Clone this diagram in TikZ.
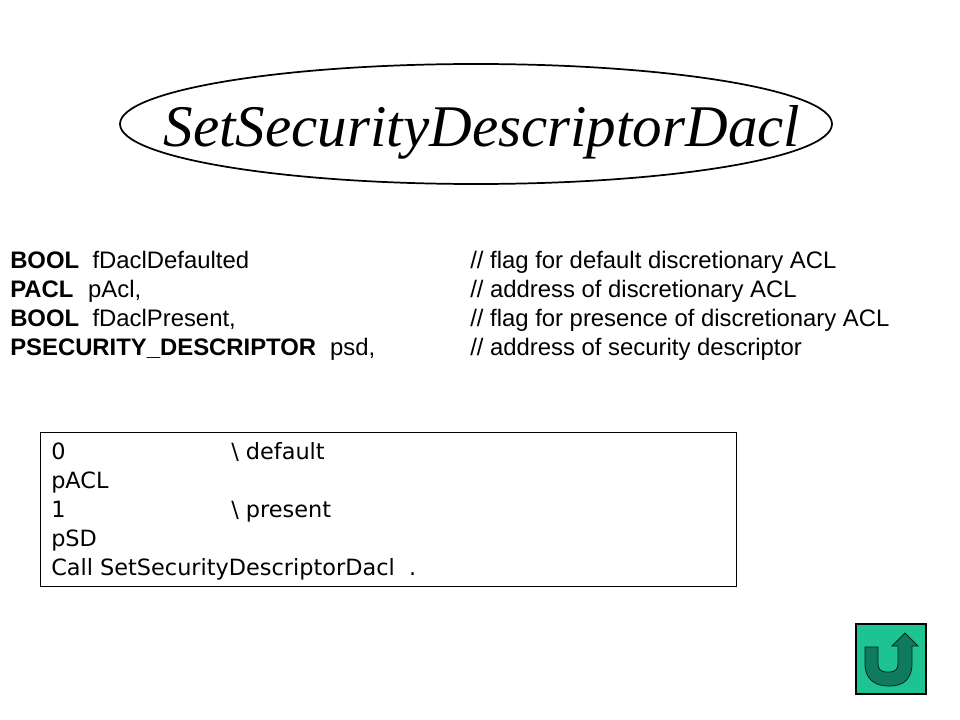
\documentclass[tikz,border=0pt]{standalone}
\usepackage{fontspec}
\setmainfont{Liberation Sans}
\newfontfamily\titlefont{Liberation Serif}
\newfontfamily\boxfont{DejaVu Sans}
\definecolor{iconbg}{HTML}{1DC492}
\definecolor{iconarrow}{HTML}{0F7A5C}
\newcommand{\bw}[2]{\textbf{#1}\hspace{#2}}
\tikzset{
  bodytext/.style={anchor=base west,inner sep=0pt,font=\fontsize{17.9}{17.9}\selectfont},
  boxtext/.style={anchor=base west,inner sep=0pt,font=\boxfont\fontsize{16.8}{16.8}\selectfont},
  titletext/.style={anchor=base,inner sep=0pt,font=\titlefont\itshape\fontsize{44.3}{44.3}\selectfont},
  thinframe/.style={draw=black,line width=0.7pt}
}
\begin{document}
\begin{tikzpicture}[x=0.75pt,y=-0.75pt]
\useasboundingbox[fill=white] (0,0) rectangle (960,720);
\draw[line width=1.3pt] (476,124) ellipse [x radius=356,y radius=60];
\node[titletext] (title) at (482,147) {SetSecurityDescriptorDacl};
\node[bodytext] (a1) at (10,268.5) {\bw{BOOL}{10pt}fDaclDefaulted};
\node[bodytext] (a2) at (10,297.5) {\bw{PACL}{11pt}pAcl,};
\node[bodytext] (a3) at (10,326.5) {\bw{BOOL}{10pt}fDaclPresent,};
\node[bodytext] (a4) at (10,355.5) {\bw{PSECURITY\_DESCRIPTOR}{10.5pt}psd,};
\node[bodytext] (b1) at (470,268.5) {// flag for default discretionary ACL};
\node[bodytext] (b2) at (470,297.5) {// address of discretionary ACL};
\node[bodytext] (b3) at (470,326.5) {// flag for presence of discretionary ACL};
\node[bodytext] (b4) at (470,355.5) {// address of security descriptor};
\draw[thinframe] (40,432) rectangle (736,586);
\node[boxtext] (c1) at (51,459) {0};
\node[boxtext] (c1b) at (231,459) {\textbackslash\ default};
\node[boxtext] (c2) at (51,488) {pACL};
\node[boxtext] (c3) at (51,517) {1};
\node[boxtext] (c3b) at (231,517) {\textbackslash\ present};
\node[boxtext] (c4) at (51,546) {pSD};
\node[boxtext] (c5) at (51,575) {Call SetSecurityDescriptorDacl~ .};
\draw[fill=iconbg,draw=black,line width=0.8pt] (856,624) rectangle (926,694);
\draw[fill=iconarrow,draw=black!70!iconarrow,line width=0.6pt]
  (865,647) -- (865,664) .. controls (865,679) and (875,686) .. (888,686)
  -- (890,686) .. controls (903,686) and (912,679) .. (912,664)
  -- (912,646) -- (918,646) -- (905,633) -- (892,646) -- (898,646) -- (898,664)
  .. controls (898,669) and (895,672) .. (890,672) -- (886,672)
  .. controls (881,672) and (878,669) .. (878,664) -- (878,647) -- cycle;
\end{tikzpicture}
\end{document}
